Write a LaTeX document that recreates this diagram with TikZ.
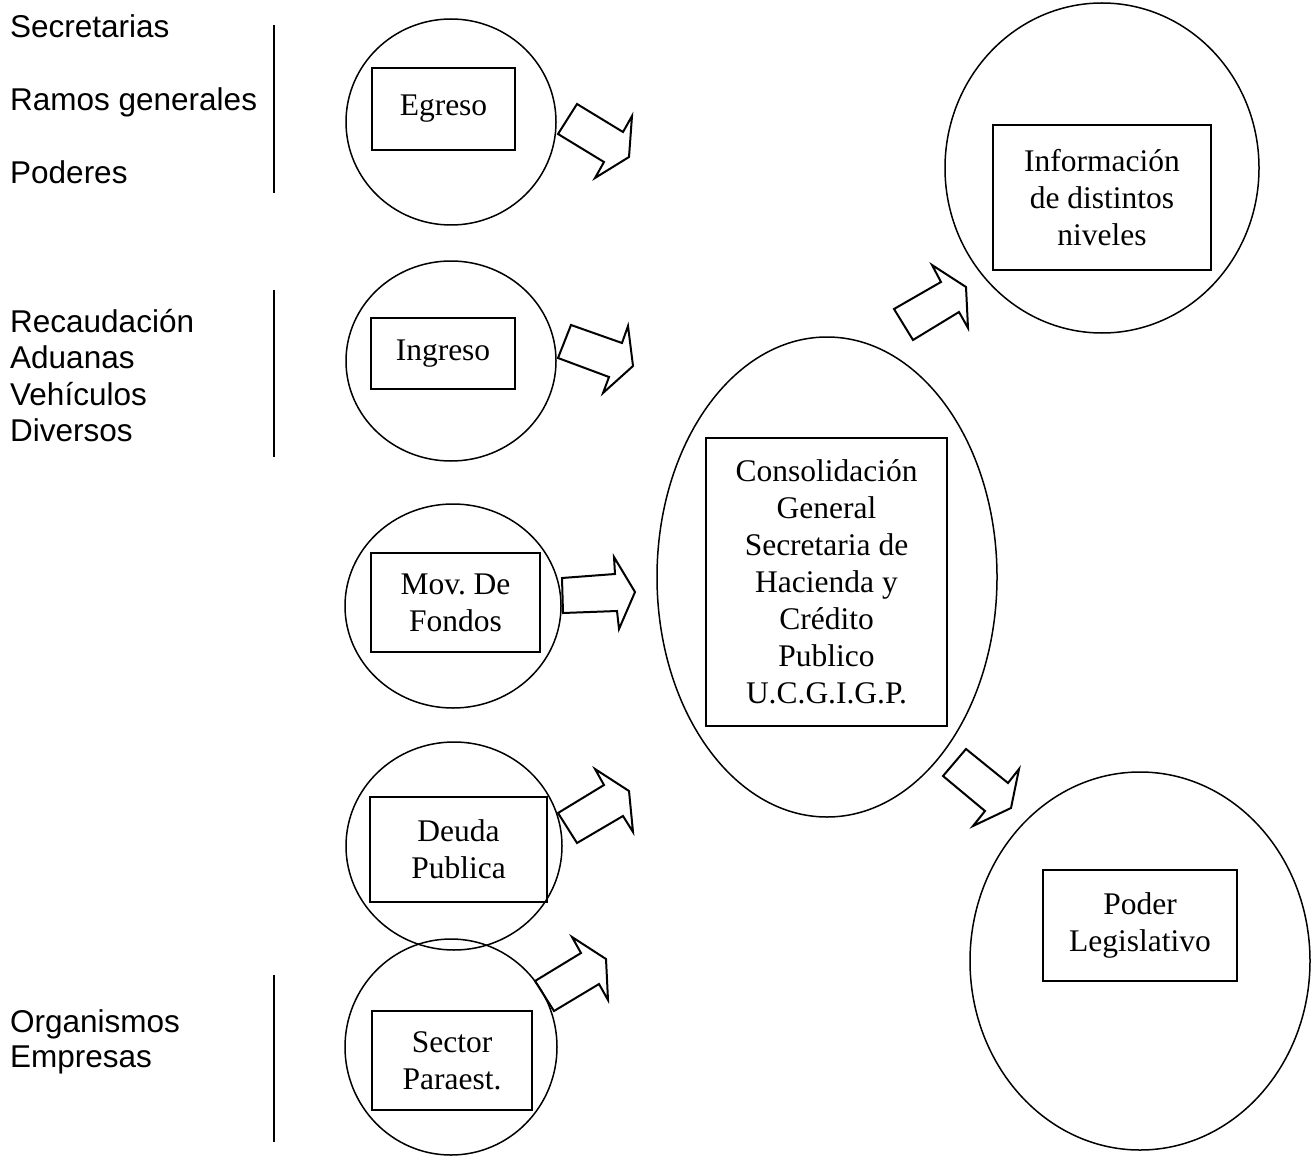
\documentclass[tikz,border=0pt]{standalone}
\usepackage{fontspec}
\setmainfont{Liberation Serif}
\newfontfamily\arialfont{Liberation Sans}
\usetikzlibrary{shapes.geometric}
\frenchspacing
\begin{document}
\begin{tikzpicture}[x=1pt,y=-1pt,
  oval/.style={draw, ellipse, inner sep=0pt, line width=1.5pt},
  tbox/.style={draw, rectangle, inner sep=0pt, align=center, line width=1.7pt,
    font=\fontsize{31.5}{37}\selectfont},
  blockarrow/.style={draw, line width=2pt, line join=miter},
  side/.style={anchor=base west, inner sep=0pt, font=\arialfont\fontsize{31.5}{36.4}\selectfont},
  bar/.style={draw, line width=2pt}]
\useasboundingbox (0,0) rectangle (1313,1158);

% left labels
\node[side] (t1) at (10,38) {Secretarias};
\node[side] (t2) at (10,111) {Ramos generales};
\node[side] (t3) at (10,184) {Poderes};
\node[side] (t4) at (10,332) {Recaudación};
\node[side] (t5) at (10,368) {Aduanas};
\node[side] (t6) at (10,405) {Vehículos};
\node[side] (t7) at (10,441) {Diversos};
\node[side] (t8) at (10,1032) {Organismos};
\node[side] (t9) at (10,1067) {Empresas};

\coordinate (b1a) at (274,25);   \coordinate (b1b) at (274,193);
\coordinate (b2a) at (274,290);  \coordinate (b2b) at (274,457);
\coordinate (b3a) at (274,975);  \coordinate (b3b) at (274,1142);
\draw[bar] (b1a) -- (b1b);
\draw[bar] (b2a) -- (b2b);
\draw[bar] (b3a) -- (b3b);

% circles
\node[oval, minimum width=210pt, minimum height=206pt] (cEgr) at (451,122) {};
\node[oval, minimum width=210pt, minimum height=200pt] (cIng) at (451,361) {};
\node[oval, minimum width=216pt, minimum height=204pt] (cMov) at (453,606) {};
\node[oval, minimum width=216pt, minimum height=208pt] (cDeu) at (454,846) {};
\node[oval, minimum width=212pt, minimum height=216pt] (cSec) at (451,1047) {};
\node[oval, minimum width=340pt, minimum height=480pt] (cCon) at (827,577) {};
\node[oval, minimum width=314pt, minimum height=330pt] (cInf) at (1102,168) {};
\node[oval, minimum width=340pt, minimum height=378pt] (cPod) at (1140,961) {};

% boxes
\node[tbox, minimum width=143pt, minimum height=82pt] (bEgr) at (443.5,109) {Egreso};
\node[tbox, minimum width=144pt, minimum height=71pt] (bIng) at (443,353.5) {Ingreso};
\node[tbox, minimum width=169pt, minimum height=99pt] (bMov) at (455.5,602.5) {Mov. De\\Fondos};
\node[tbox, minimum width=177pt, minimum height=105pt] (bDeu) at (458.5,849.5) {Deuda\\Publica};
\node[tbox, minimum width=160pt, minimum height=99pt] (bSec) at (452,1060.5) {Sector\\Paraest.};
\node[tbox, minimum width=241pt, minimum height=288pt] (bCon) at (826.5,582) {Consolidación\\General\\Secretaria de\\Hacienda y\\Crédito\\Publico\\U.C.G.I.G.P.};
\node[tbox, minimum width=218pt, minimum height=145pt] (bInf) at (1102,197.5) {Información\\de distintos\\niveles};
\node[tbox, minimum width=194pt, minimum height=111pt] (bPod) at (1140,925.5) {Poder\\Legislativo};

% block arrows
\draw[blockarrow] (558,134) -- (577,104) -- (623,132) -- (632,116) -- (629,157) -- (595,178) -- (604,162) -- cycle;
\draw[blockarrow] (558,358) -- (571,325) -- (622,343) -- (628,326) -- (633,366) -- (603,393) -- (609,377) -- cycle;
\draw[blockarrow] (562,578) -- (615,574) -- (614,557) -- (635,592) -- (619,629) -- (617,611) -- (563,613) -- cycle;
\draw[blockarrow] (558,813) -- (604,785) -- (595,769) -- (629,791) -- (633,832) -- (623,816) -- (577,843) -- cycle;
\draw[blockarrow] (535,981) -- (581,953) -- (572,937) -- (606,959) -- (608,1000) -- (599,984) -- (554,1011) -- cycle;
\draw[blockarrow] (894,309) -- (941,282) -- (932,265) -- (966,287) -- (968,328) -- (959,312) -- (913,340) -- cycle;
\draw[blockarrow] (943,776) -- (966,749) -- (1008,783) -- (1019,769) -- (1011,808) -- (973,826) -- (985,811) -- cycle;
\end{tikzpicture}
\end{document}
